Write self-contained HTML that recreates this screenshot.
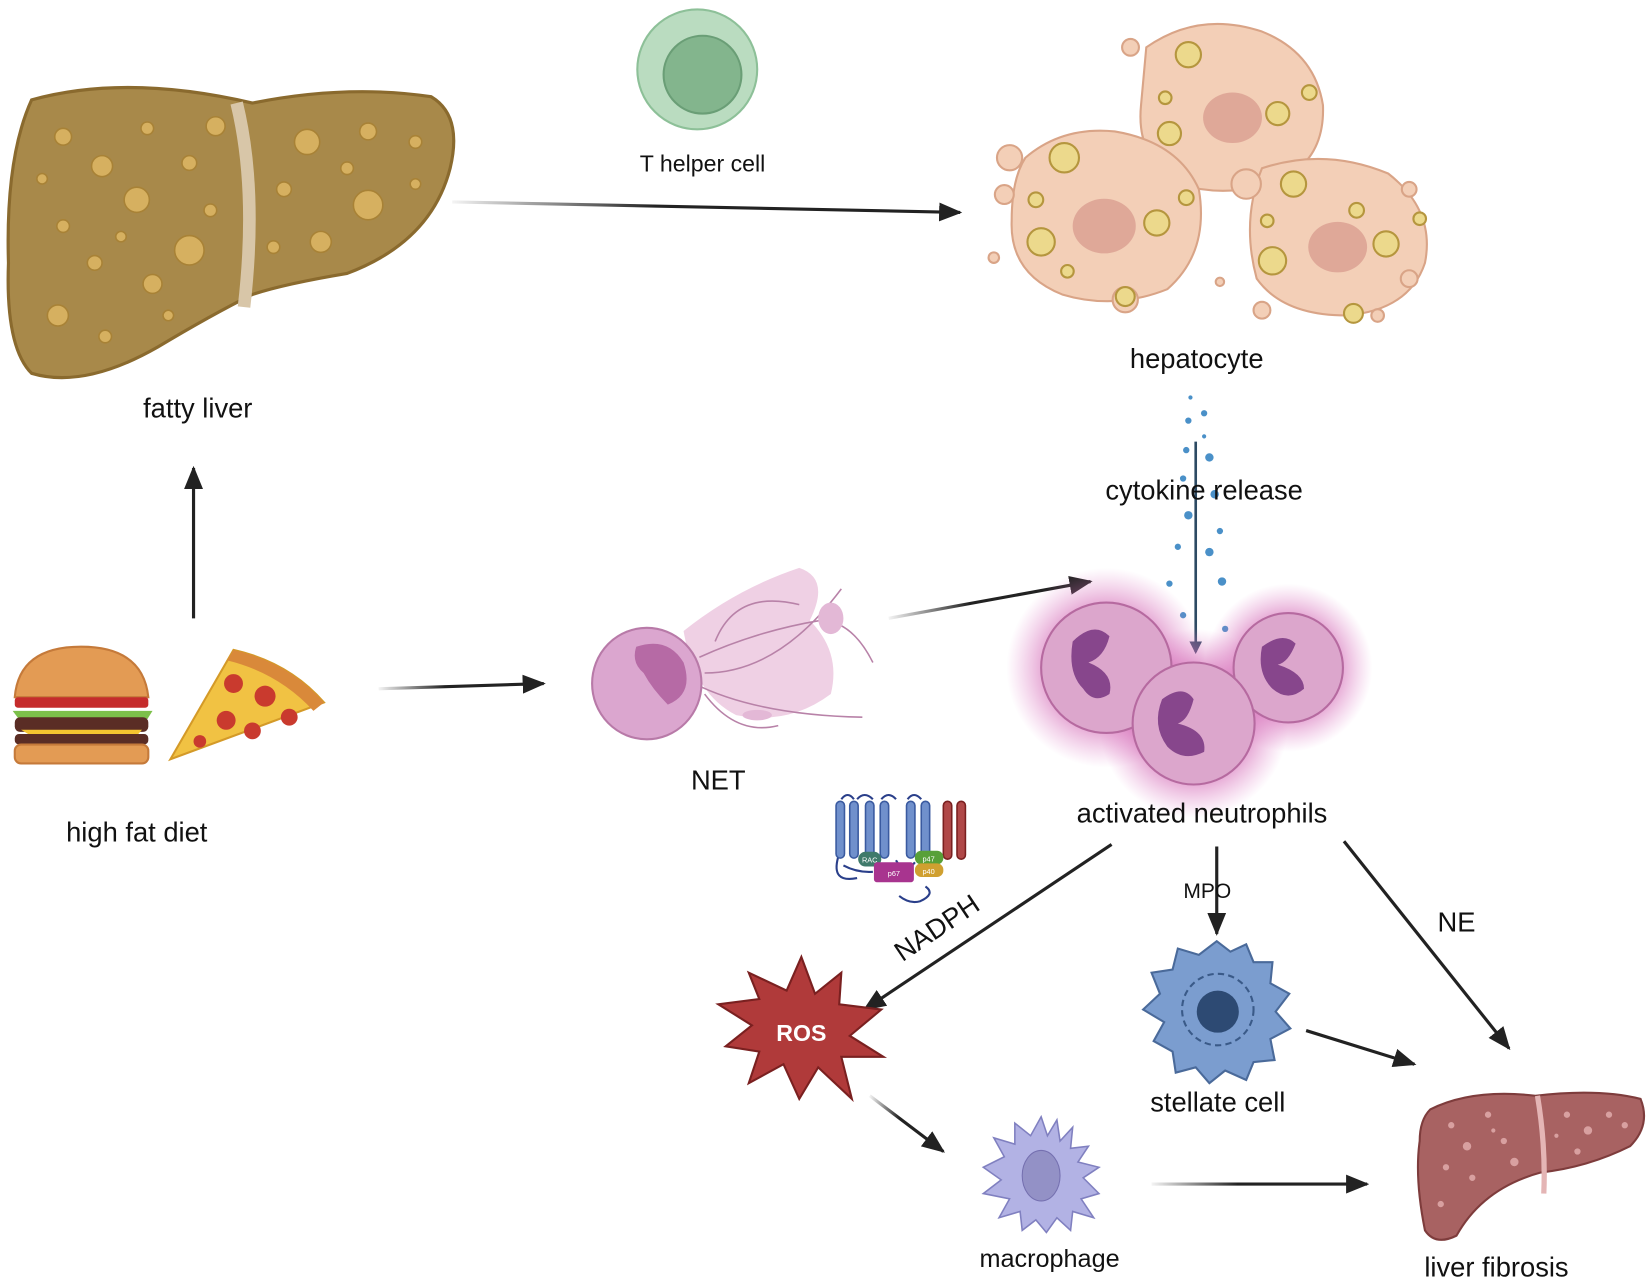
<!DOCTYPE html>
<html><head><meta charset="utf-8"><style>html,body{margin:0;padding:0;background:#fff;}svg{display:block}text{font-family:"Liberation Sans",sans-serif;fill:#111;}</style></head>
<body>
<svg width="1649" height="1284" viewBox="0 0 1568 1221" xmlns="http://www.w3.org/2000/svg">
<defs>
<linearGradient id="ga" x1="0" x2="1" y1="0" y2="0"><stop offset="0" stop-color="#222" stop-opacity="0.05"/><stop offset="0.4" stop-color="#222"/></linearGradient>
<linearGradient id="gh" gradientUnits="userSpaceOnUse" x1="1095" y1="0" x2="1300" y2="0"><stop offset="0" stop-color="#222" stop-opacity="0.05"/><stop offset="0.4" stop-color="#222"/></linearGradient>
<radialGradient id="glow"><stop offset="0.6" stop-color="#d060b0" stop-opacity="0.6"/><stop offset="1" stop-color="#e080c8" stop-opacity="0"/></radialGradient>
<marker id="ah2" markerWidth="22" markerHeight="18" refX="20" refY="9" orient="auto" markerUnits="userSpaceOnUse"><path d="M0,0 L22,9 L0,18 z" fill="#222"/></marker>
<marker id="ahb" markerWidth="12" markerHeight="12" refX="10" refY="6" orient="auto" markerUnits="userSpaceOnUse"><path d="M0,0 L12,6 L0,12 z" fill="#2d4a63"/></marker>
</defs>

<!-- fatty liver -->
<path d="M30,95 Q120,70 240,98 Q330,80 410,92 Q440,110 428,160 Q410,230 330,260 Q270,270 240,280 Q200,300 150,330 Q80,370 30,355 Q5,330 8,250 Q5,150 30,95 Z" fill="#a8894a" stroke="#8a6a2e" stroke-width="3"/>
<path d="M225,98 Q245,180 232,292" stroke="#d8c6a8" stroke-width="12" fill="none"/>
<g fill="#d6b060" stroke="#a88236" stroke-width="1.5">
<circle cx="60" cy="130" r="8"/><circle cx="97" cy="158" r="10"/><circle cx="140" cy="122" r="6"/><circle cx="180" cy="155" r="7"/><circle cx="130" cy="190" r="12"/><circle cx="60" cy="215" r="6"/><circle cx="205" cy="120" r="9"/><circle cx="180" cy="238" r="14"/><circle cx="90" cy="250" r="7"/><circle cx="145" cy="270" r="9"/><circle cx="55" cy="300" r="10"/><circle cx="100" cy="320" r="6"/><circle cx="40" cy="170" r="5"/><circle cx="200" cy="200" r="6"/><circle cx="292" cy="135" r="12"/><circle cx="350" cy="125" r="8"/><circle cx="395" cy="135" r="6"/><circle cx="270" cy="180" r="7"/><circle cx="350" cy="195" r="14"/><circle cx="305" cy="230" r="10"/><circle cx="395" cy="175" r="5"/><circle cx="260" cy="235" r="6"/><circle cx="330" cy="160" r="6"/><circle cx="160" cy="300" r="5"/><circle cx="115" cy="225" r="5"/>
</g>
<text x="188" y="397" font-size="26" text-anchor="middle">fatty liver</text>

<!-- T helper -->
<circle cx="663" cy="66" r="57" fill="#badcc0" stroke="#8dc098" stroke-width="2"/>
<circle cx="668" cy="71" r="37" fill="#83b58d" stroke="#6a9e76" stroke-width="2"/>
<text x="668" y="163" font-size="22" text-anchor="middle">T helper cell</text>
<line x1="430" y1="192" x2="913" y2="202" stroke="url(#ga)" stroke-width="3" marker-end="url(#ah2)"/>

<!-- hepatocytes -->
<g fill="#f3cfb7" stroke="#d9a487" stroke-width="2">
<path d="M1090,45 Q1140,10 1200,30 Q1250,50 1258,100 Q1260,150 1220,170 Q1170,190 1120,175 Q1080,150 1085,100 Z"/>
<path d="M975,150 Q1010,120 1060,125 Q1120,135 1140,180 Q1150,240 1110,275 Q1060,295 1010,280 Q960,260 962,210 Q962,170 975,150 Z"/>
<path d="M1200,160 Q1260,140 1320,165 Q1365,200 1355,250 Q1340,295 1280,300 Q1220,300 1195,265 Q1180,210 1200,160 Z"/>
<circle cx="960" cy="150" r="12"/><circle cx="955" cy="185" r="9"/><circle cx="945" cy="245" r="5"/><circle cx="1075" cy="45" r="8"/><circle cx="1185" cy="175" r="14"/><circle cx="1340" cy="180" r="7"/><circle cx="1340" cy="265" r="8"/><circle cx="1070" cy="285" r="12"/><circle cx="1310" cy="300" r="6"/><circle cx="1160" cy="268" r="4"/><circle cx="1200" cy="295" r="8"/>
</g>
<g fill="#dfa898"><ellipse cx="1172" cy="112" rx="28" ry="24"/><ellipse cx="1050" cy="215" rx="30" ry="26"/><ellipse cx="1272" cy="235" rx="28" ry="24"/></g>
<g fill="#ecd98c" stroke="#b5963e" stroke-width="2">
<circle cx="1130" cy="52" r="12"/><circle cx="1215" cy="108" r="11"/><circle cx="1112" cy="127" r="11"/><circle cx="1245" cy="88" r="7"/><circle cx="1108" cy="93" r="6"/><circle cx="1012" cy="150" r="14"/><circle cx="990" cy="230" r="13"/><circle cx="1100" cy="212" r="12"/><circle cx="985" cy="190" r="7"/><circle cx="1015" cy="258" r="6"/><circle cx="1128" cy="188" r="7"/><circle cx="1230" cy="175" r="12"/><circle cx="1318" cy="232" r="12"/><circle cx="1210" cy="248" r="13"/><circle cx="1290" cy="200" r="7"/><circle cx="1350" cy="208" r="6"/><circle cx="1070" cy="282" r="9"/><circle cx="1287" cy="298" r="9"/><circle cx="1205" cy="210" r="6"/>
</g>
<text x="1138" y="350" font-size="26" text-anchor="middle">hepatocyte</text>

<!-- cytokine -->
<g fill="#4a90c8">
<circle cx="1130" cy="400" r="3"/><circle cx="1145" cy="393" r="3"/><circle cx="1128" cy="428" r="3"/><circle cx="1150" cy="435" r="4"/><circle cx="1125" cy="455" r="3"/><circle cx="1155" cy="470" r="4"/><circle cx="1130" cy="490" r="4"/><circle cx="1160" cy="505" r="3"/><circle cx="1120" cy="520" r="3"/><circle cx="1150" cy="525" r="4"/><circle cx="1162" cy="553" r="4"/><circle cx="1112" cy="555" r="3"/><circle cx="1125" cy="585" r="3"/><circle cx="1165" cy="598" r="3"/><circle cx="1132" cy="378" r="2"/><circle cx="1145" cy="415" r="2"/>
</g>
<line x1="1137" y1="420" x2="1137" y2="620" stroke="#2d4a63" stroke-width="2.5" marker-end="url(#ahb)"/>
<text x="1145" y="475" font-size="26" text-anchor="middle">cytokine release</text>

<!-- burger -->
<path d="M14,663 Q18,615 77,615 Q136,615 141,663 Z" fill="#e39b54" stroke="#c57a3a" stroke-width="2"/>
<rect x="14" y="663" width="127" height="10" rx="3" fill="#c52c2c"/>
<path d="M12,676 L145,676 L140,684 L18,684 Z" fill="#7cc04a"/>
<rect x="14" y="682" width="127" height="14" rx="5" fill="#5a2d25"/>
<path d="M20,694 L135,694 L128,702 L30,700 Z" fill="#f4c430"/>
<rect x="14" y="698" width="127" height="10" rx="4" fill="#5a2d25"/>
<rect x="14" y="708" width="127" height="18" rx="6" fill="#e39b54" stroke="#c57a3a" stroke-width="2"/>
<!-- pizza -->
<path d="M162,722 L222,618 Q275,630 308,668 Z" fill="#f1c243" stroke="#d49a28" stroke-width="2"/>
<path d="M222,618 Q275,630 308,668 L298,676 Q265,640 216,628 Z" fill="#d9893a"/>
<g fill="#c93a2e"><circle cx="222" cy="650" r="9"/><circle cx="252" cy="662" r="10"/><circle cx="215" cy="685" r="9"/><circle cx="240" cy="695" r="8"/><circle cx="275" cy="682" r="8"/><circle cx="190" cy="705" r="6"/></g>
<text x="130" y="800" font-size="26" text-anchor="middle">high fat diet</text>
<line x1="184" y1="588" x2="184" y2="445" stroke="#222" stroke-width="3" marker-end="url(#ah2)"/>
<line x1="360" y1="655" x2="517" y2="650" stroke="url(#ga)" stroke-width="3" marker-end="url(#ah2)"/>

<!-- NET -->
<path d="M650,600 Q700,560 760,540 Q790,550 770,590 Q800,620 790,660 Q750,690 700,680 Q660,660 650,600 Z" fill="#e8bcd8" opacity="0.7"/>
<g stroke="#b882a8" stroke-width="1.5" fill="none">
<path d="M665,625 Q720,600 780,590 Q810,590 830,630"/><path d="M670,640 Q740,640 800,560"/><path d="M660,650 Q720,680 820,682"/><path d="M680,610 Q700,560 760,575"/><path d="M670,660 Q700,700 740,690"/>
</g>
<ellipse cx="615" cy="650" rx="52" ry="53" fill="#dba6cf" stroke="#b87aa8" stroke-width="2"/>
<path d="M605,615 Q635,605 650,630 Q660,660 635,670 Q620,655 612,640 Q600,630 605,615 Z" fill="#b66aa5"/>
<ellipse cx="790" cy="588" rx="12" ry="15" fill="#e3b8d6"/>
<ellipse cx="720" cy="680" rx="14" ry="5" fill="#e3b8d6"/>
<text x="683" y="751" font-size="26" text-anchor="middle">NET</text>
<line x1="845" y1="588" x2="1037" y2="553" stroke="url(#ga)" stroke-width="3" marker-end="url(#ah2)"/>

<!-- neutrophils -->
<circle cx="1052" cy="635" r="95" fill="url(#glow)"/>
<circle cx="1225" cy="635" r="80" fill="url(#glow)"/>
<circle cx="1135" cy="688" r="90" fill="url(#glow)"/>
<g stroke="#b66aa0" stroke-width="2" fill="#dca6cc">
<circle cx="1052" cy="635" r="62"/><circle cx="1225" cy="635" r="52"/><circle cx="1135" cy="688" r="58"/>
</g>
<g fill="#87468c">
<path d="M1020,610 Q1040,590 1055,605 Q1050,625 1035,630 Q1060,640 1055,660 Q1040,670 1030,655 Q1015,640 1020,610 Z"/>
<path d="M1200,615 Q1220,600 1232,612 Q1225,630 1215,632 Q1240,640 1240,655 Q1225,668 1210,655 Q1195,640 1200,615 Z"/>
<path d="M1105,665 Q1125,650 1135,665 Q1130,685 1120,688 Q1148,695 1145,715 Q1125,725 1110,710 Q1095,690 1105,665 Z"/>
</g>
<text x="1143" y="782" font-size="26" text-anchor="middle">activated neutrophils</text>

<!-- NADPH complex -->
<g stroke="#2a3f8a" stroke-width="2" fill="none"><path d="M800,760 Q806,752 812,760 M815,760 Q822,752 830,760 M838,760 Q845,752 852,760 M863,760 Q869,752 876,760"/><path d="M797,815 Q790,840 815,835"/><path d="M802,823 Q815,830 830,829"/><path d="M852,818 Q860,833 870,820"/><path d="M880,843 Q890,850 875,857 Q865,860 855,852"/></g>
<g fill="#7090cc" stroke="#3a5aa0" stroke-width="1.5">
<rect x="795" y="762" width="8" height="54" rx="4"/><rect x="808" y="762" width="8" height="54" rx="4"/><rect x="823" y="762" width="8" height="54" rx="4"/><rect x="837" y="762" width="8" height="54" rx="4"/><rect x="862" y="762" width="8" height="54" rx="4"/><rect x="876" y="762" width="8" height="54" rx="4"/>
</g>
<g fill="#b04848" stroke="#7a2020" stroke-width="1.5"><rect x="897" y="762" width="8" height="55" rx="4"/><rect x="910" y="762" width="8" height="55" rx="4"/></g>
<rect x="816" y="810" width="22" height="14" rx="7" fill="#3f7a6a"/><text x="827" y="820" font-size="7" text-anchor="middle" style="fill:#fff">RAC</text>
<rect x="831" y="820" width="38" height="19" rx="3" fill="#a8348f"/><text x="850" y="833" font-size="7" text-anchor="middle" style="fill:#fff">p67</text>
<rect x="870" y="809" width="27" height="13" rx="6" fill="#58a038"/><text x="883" y="819" font-size="7" text-anchor="middle" style="fill:#fff">p47</text>
<rect x="870" y="821" width="27" height="13" rx="6" fill="#d0a030"/><text x="883" y="831" font-size="7" text-anchor="middle" style="fill:#fff">p40</text>

<!-- arrows from neutrophils -->
<line x1="1057" y1="803" x2="822" y2="960" stroke="#222" stroke-width="3" marker-end="url(#ah2)"/>
<text x="0" y="0" font-size="26" transform="translate(858,915) rotate(-34)">NADPH</text>
<line x1="1157" y1="805" x2="1157" y2="888" stroke="#222" stroke-width="3" marker-end="url(#ah2)"/>
<text x="1148" y="854" font-size="20" text-anchor="middle">MPO</text>
<line x1="1278" y1="800" x2="1435" y2="997" stroke="#222" stroke-width="3" marker-end="url(#ah2)"/>
<text x="1385" y="886" font-size="26" text-anchor="middle">NE</text>

<!-- ROS -->
<polygon points="762,910 775,945 800,925 798,955 838,960 808,985 840,1005 800,1005 810,1045 778,1015 760,1045 745,1012 712,1030 722,1000 690,995 715,975 683,955 722,950 712,925 748,942" fill="#b03a3a" stroke="#7a2020" stroke-width="2"/>
<text x="762" y="990" font-size="22" font-weight="bold" text-anchor="middle" style="fill:#fff">ROS</text>

<!-- stellate -->
<path d="M1157,895 L1170,905 L1185,898 L1192,915 L1210,915 L1208,935 L1226,945 L1213,962 L1227,978 L1208,988 L1212,1008 L1192,1010 L1185,1027 L1165,1018 L1150,1030 L1137,1015 L1118,1020 L1115,1000 L1097,990 L1107,972 L1087,960 L1103,945 L1095,925 L1115,922 L1120,902 L1140,908 Z" fill="#7b9dcf" stroke="#4a6a9a" stroke-width="2"/>
<circle cx="1158" cy="960" r="34" fill="none" stroke="#3a5a88" stroke-width="2" stroke-dasharray="6 4"/>
<circle cx="1158" cy="962" r="20" fill="#2d4a73"/>
<text x="1158" y="1057" font-size="26" text-anchor="middle">stellate cell</text>
<line x1="1242" y1="980" x2="1345" y2="1012" stroke="#222" stroke-width="3" marker-end="url(#ah2)"/>
<line x1="827" y1="1042" x2="897" y2="1095" stroke="url(#ga)" stroke-width="3" marker-end="url(#ah2)"/>

<!-- macrophage -->
<path d="M990,1062 L996,1080 L1005,1065 L1008,1085 L1020,1072 L1018,1092 L1035,1090 L1025,1105 L1045,1110 L1030,1120 L1045,1135 L1028,1140 L1040,1158 L1020,1152 L1018,1170 L1005,1158 L995,1172 L985,1160 L972,1170 L970,1152 L950,1158 L960,1140 L935,1135 L952,1122 L935,1110 L955,1100 L945,1082 L965,1088 L965,1068 L980,1080 Z" fill="#b2b2e4" stroke="#8080c0" stroke-width="1.5"/>
<ellipse cx="990" cy="1118" rx="18" ry="24" fill="#9391c6" stroke="#7570b0"/>
<text x="998" y="1205" font-size="24" text-anchor="middle">macrophage</text>
<line x1="1095" y1="1126" x2="1300" y2="1126" stroke="url(#gh)" stroke-width="3" marker-end="url(#ah2)"/>

<!-- liver fibrosis -->
<path d="M1360,1055 Q1400,1035 1460,1042 Q1520,1035 1560,1045 Q1570,1070 1550,1090 Q1510,1110 1465,1115 Q1410,1130 1385,1175 Q1365,1185 1355,1170 Q1345,1120 1350,1085 Q1350,1065 1360,1055 Z" fill="#a86262" stroke="#7e3c3c" stroke-width="2"/>
<path d="M1462,1042 Q1470,1090 1468,1135" stroke="#e4b5b5" stroke-width="5" fill="none"/>
<g fill="#d8a0a0"><circle cx="1380" cy="1070" r="3"/><circle cx="1395" cy="1090" r="4"/><circle cx="1415" cy="1060" r="3"/><circle cx="1430" cy="1085" r="3"/><circle cx="1375" cy="1110" r="3"/><circle cx="1400" cy="1120" r="3"/><circle cx="1440" cy="1105" r="4"/><circle cx="1490" cy="1060" r="3"/><circle cx="1510" cy="1075" r="4"/><circle cx="1530" cy="1060" r="3"/><circle cx="1500" cy="1095" r="3"/><circle cx="1545" cy="1070" r="3"/><circle cx="1370" cy="1145" r="3"/><circle cx="1420" cy="1075" r="2"/><circle cx="1480" cy="1080" r="2"/></g>
<text x="1423" y="1214" font-size="26" text-anchor="middle">liver fibrosis</text>
</svg>
</body></html>
